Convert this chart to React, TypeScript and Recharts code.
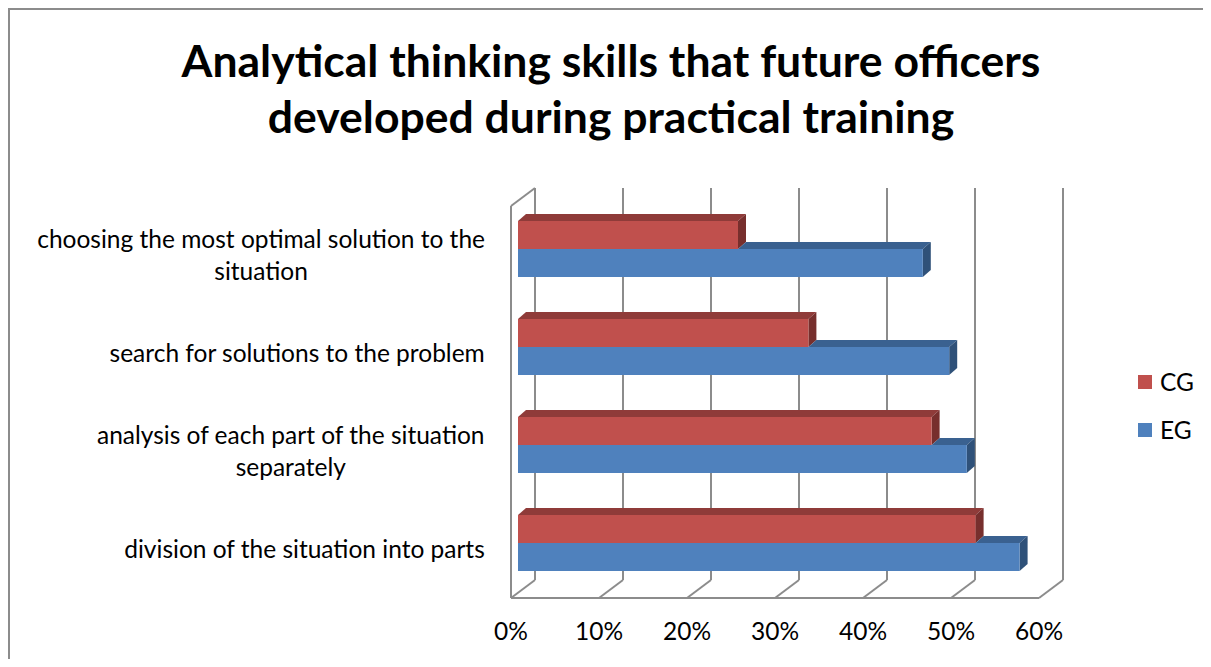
import React from 'react';
import { BarChart, Bar, XAxis, YAxis, CartesianGrid, Legend } from 'recharts';

const categories = [
  'choosing the most optimal solution to the situation',
  'search for solutions to the problem',
  'analysis of each part of the situation separately',
  'division of the situation into parts',
];
const cgValues = [25, 33, 47, 52];
const egValues = [46, 49, 51, 57];
const xTicks = [0, 10, 20, 30, 40, 50, 60];
const seriesNames = ['CG', 'EG'];

const data = categories.map((name, i) => ({ name, cg: cgValues[i], eg: egValues[i] }));

const FONT = 'Lato, "Open Sans", sans-serif';
const LABEL_SIZE = 24.5;
const GRID = '#8c8c8c';

// depth of the back wall and of the bars
const WALL_DX = 24;
const WALL_DY = 18;
const BAR_X0 = 7;
const BAR_Y0 = 6;
const BAR_DX = 8;
const BAR_DY = 7;

const COLORS = {
  cg: { front: '#C0504D', top: '#8F3B39', side: '#772F2D' },
  eg: { front: '#4F81BD', top: '#3A6190', side: '#2F5179' },
};

let ctx: CanvasRenderingContext2D | null = null;
const measure = (text: string) => {
  if (!ctx) ctx = document.createElement('canvas').getContext('2d');
  if (!ctx) return text.length * LABEL_SIZE * 0.5;
  ctx.font = `${LABEL_SIZE}px ${FONT}`;
  return ctx.measureText(text).width;
};

const wrap = (text: string, maxW: number) => {
  const words = text.split(' ');
  const lines: string[] = [];
  let cur = '';
  words.forEach(w => {
    const next = cur ? cur + ' ' + w : w;
    if (cur && measure(next) > maxW) {
      lines.push(cur);
      cur = w;
    } else {
      cur = next;
    }
  });
  if (cur) lines.push(cur);
  return lines;
};

const CategoryTick = (props: any) => {
  const { x, y, payload } = props;
  const lines = wrap(payload.value, 470);
  const maxW = Math.max(...lines.map(measure));
  const cx = x - maxW / 2;
  return (
    <g>
      {lines.map((l, i) => (
        <text
          key={i}
          x={cx}
          y={y + 9 + (i - (lines.length - 1) / 2) * 32}
          textAnchor="middle"
          fontSize={LABEL_SIZE}
          fill="#000"
        >
          {l}
        </text>
      ))}
    </g>
  );
};

const PercentTick = (props: any) => {
  const { x, y, payload } = props;
  return (
    <text x={x} y={y + 42} textAnchor="middle" fontSize={LABEL_SIZE} fill="#000">
      {payload.value}%
    </text>
  );
};

const Bar3D = (props: any) => {
  const { x, y, width, height, payload, kind } = props;
  if (!width || width <= 0) return <g />;
  const c = COLORS[kind as 'cg' | 'eg'];
  const fx = x + BAR_X0;
  const fy = y - BAR_Y0;
  const end = fx + width;
  // the blue bar's top face is hidden behind the red bar up to the red bar's end
  const topStart = kind === 'eg' ? fx + (width * payload.cg) / payload.eg : fx;
  const s = Math.min(topStart, end);
  return (
    <g>
      <polygon
        points={`${s},${fy} ${end},${fy} ${end + BAR_DX},${fy - BAR_DY} ${s + BAR_DX},${fy - BAR_DY}`}
        fill={c.top}
      />
      <polygon
        points={`${end},${fy} ${end + BAR_DX},${fy - BAR_DY} ${end + BAR_DX},${fy - BAR_DY + height} ${end},${fy + height}`}
        fill={c.side}
      />
      <rect x={fx} y={fy} width={width} height={height} fill={c.front} />
    </g>
  );
};

const gridLine = (p: any) => {
  const { x1, y1, y2, index } = p;
  return (
    <g key={`v-${index}`}>
      <line x1={x1 + WALL_DX} y1={y1 - WALL_DY} x2={x1 + WALL_DX} y2={y2 - WALL_DY} stroke={GRID} strokeWidth={2} />
      <line x1={x1} y1={y2} x2={x1 + WALL_DX} y2={y2 - WALL_DY} stroke={GRID} strokeWidth={2} />
      {index === 0 && (
        <line x1={x1} y1={y1} x2={x1 + WALL_DX} y2={y1 - WALL_DY} stroke={GRID} strokeWidth={2} />
      )}
    </g>
  );
};

const LegendBox = () => (
  <div style={{ fontFamily: FONT, fontSize: LABEL_SIZE }}>
    {seriesNames.map((n, i) => (
      <div key={n} style={{ display: 'flex', alignItems: 'center', height: 24, marginBottom: i === 0 ? 24 : 0 }}>
        <span
          style={{
            display: 'inline-block',
            width: 14,
            height: 14,
            background: i === 0 ? COLORS.cg.front : COLORS.eg.front,
            marginRight: 8,
          }}
        />
        <span style={{ lineHeight: '24px' }}>{n}</span>
      </div>
    ))}
  </div>
);

export default function App() {
  return (
    <div
      style={{
        position: 'relative',
        width: 1195,
        height: 651,
        fontFamily: FONT,
        background: '#fff',
      }}
    >
      <style>{'html, body { overflow: hidden; }'}</style>
      <div style={{ position: 'absolute', left: 0, top: 0, width: 1203, height: 2, background: GRID }} />
      <div style={{ position: 'absolute', left: 0, top: 0, width: 2, height: 659, background: GRID }} />
      <div
        style={{
          position: 'absolute',
          left: 3,
          top: 24,
          width: 1200,
          textAlign: 'center',
          fontWeight: 700,
          fontSize: 44.5,
          lineHeight: '56px',
          color: '#000',
          whiteSpace: 'nowrap',
        }}
      >
        Analytical thinking skills that future officers
        <br />
        developed during practical training
      </div>
      <BarChart
        width={1195}
        height={651}
        data={data}
        layout="vertical"
        margin={{ top: 198, right: 164, bottom: 11, left: 23 }}
        barSize={28}
        barGap={0}
      >
        <CartesianGrid horizontal={false} vertical={gridLine} stroke={GRID} />
        <XAxis
          type="number"
          domain={[0, 60]}
          ticks={xTicks}
          height={50}
          tickLine={false}
          tickSize={0}
          tickMargin={0}
          axisLine={{ stroke: GRID, strokeWidth: 2 }}
          tick={<PercentTick />}
        />
        <YAxis
          type="category"
          dataKey="name"
          width={480}
          tickLine={false}
          tickSize={0}
          tickMargin={26}
          axisLine={{ stroke: GRID, strokeWidth: 2 }}
          tick={<CategoryTick />}
        />
        <Legend
          layout="horizontal"
          verticalAlign="middle"
          align="center"
          wrapperStyle={{ position: 'absolute', left: 1130, top: 362, width: 60 }}
          content={() => <LegendBox />}
        />
        <Bar
          dataKey="cg"
          name="CG"
          fill={COLORS.cg.front}
          isAnimationActive={false}
          shape={(p: any) => <Bar3D {...p} kind="cg" />}
        />
        <Bar
          dataKey="eg"
          name="EG"
          fill={COLORS.eg.front}
          isAnimationActive={false}
          shape={(p: any) => <Bar3D {...p} kind="eg" />}
        />
      </BarChart>
    </div>
  );
}
